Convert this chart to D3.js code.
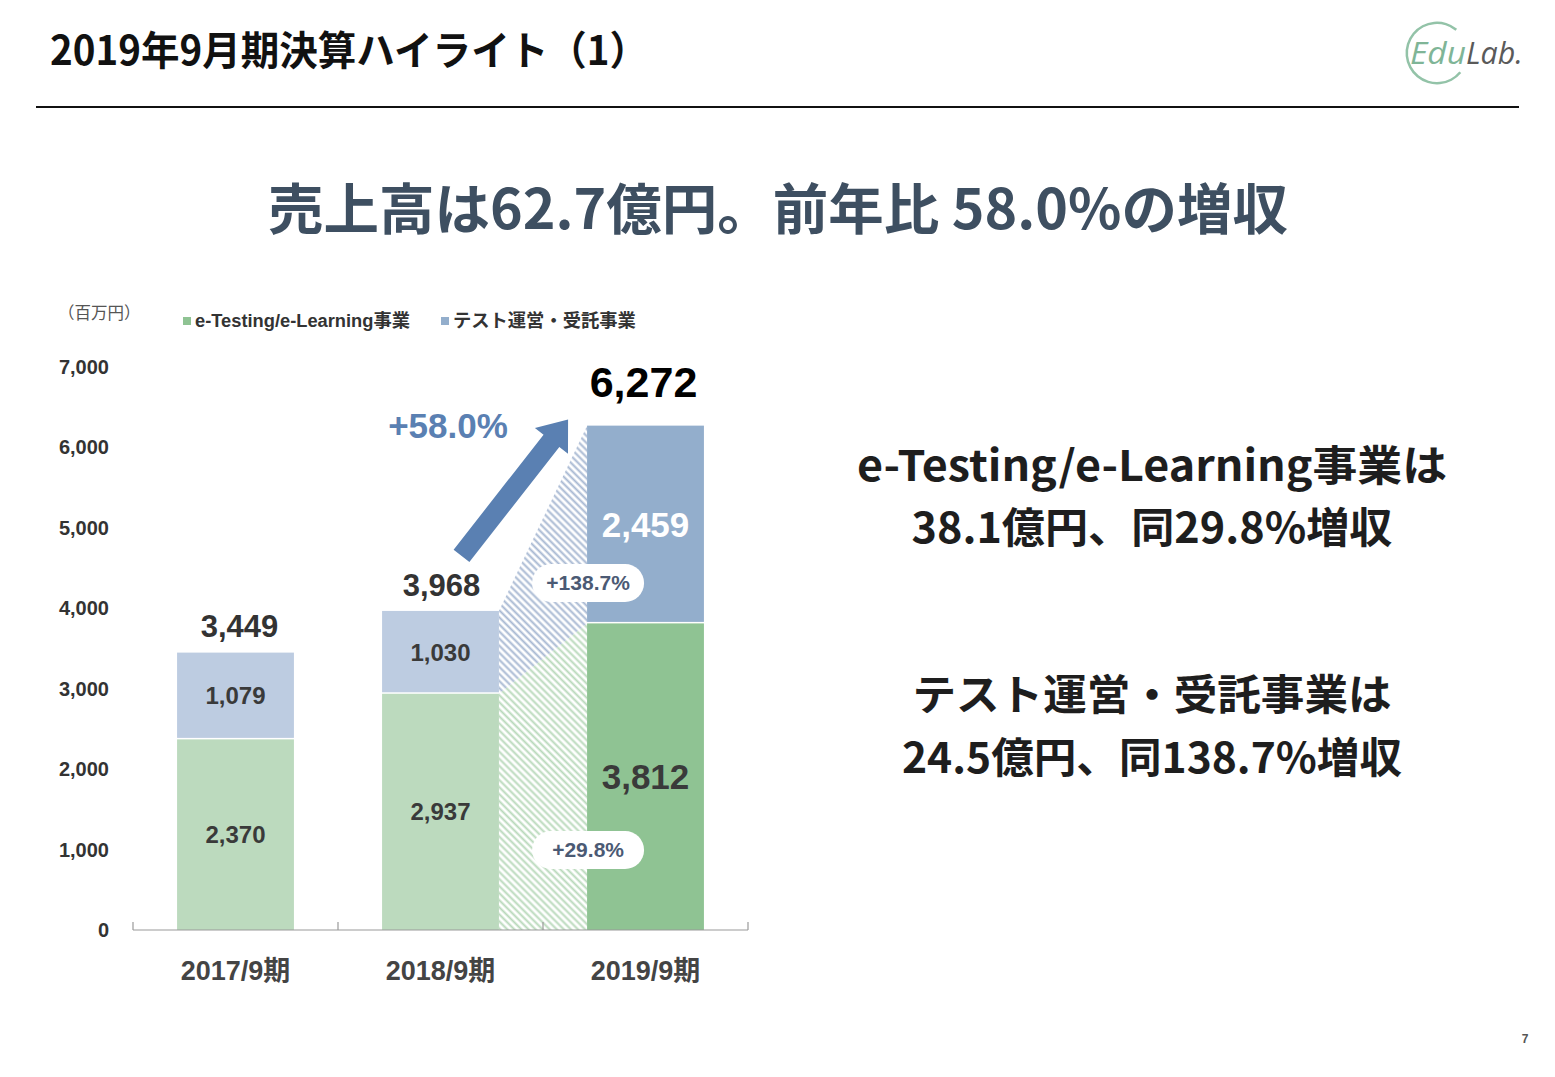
<!DOCTYPE html>
<html lang="ja">
<head>
<meta charset="UTF-8">
<title>2019年9月期決算ハイライト（1）</title>
<script src="https://cdn.jsdelivr.net/npm/d3@7"></script>
<style>
  html, body { margin: 0; padding: 0; background: #fff; }
</style>
</head>
<body>
<script>
    // データ（単位：百万円）
    const categories = ["2017/9期", "2018/9期", "2019/9期"]
    const eTesting   = [2370, 2937, 3812]   // e-Testing/e-Learning事業
    const testOps    = [1079, 1030, 2459]   // テスト運営・受託事業
    const totals     = [3449, 3968, 6272]   // 合計ラベル
    const yTicks     = [0, 1000, 2000, 3000, 4000, 5000, 6000, 7000]
    const seriesNames = ["e-Testing/e-Learning事業", "テスト運営・受託事業"]
    const totalGrowth = "+58.0%"
    const segGrowth   = ["+29.8%", "+138.7%"]   // e-Testing, テスト運営
    const sideText = [
        "e-Testing/e-Learning事業は",
        "38.1億円、同29.8%増収",
        "テスト運営・受託事業は",
        "24.5億円、同138.7%増収"
    ]

    const W = 1555, H = 1077
    const NUM = "'Liberation Sans', Arial, 'Noto Sans CJK JP', sans-serif"
    const JP  = "'Noto Sans CJK JP', 'Noto Sans CJK SC', sans-serif"

    const svg = d3.select("body").append("svg").attr("width", W).attr("height", H)

    // パターン（斜線）
    const defs = svg.append("defs")
    const hatch = (id, color) => {
        const p = defs.append("pattern").attr("id", id)
            .attr("patternUnits", "userSpaceOnUse").attr("width", 5).attr("height", 5)
            .attr("patternTransform", "rotate(-45)")
        p.append("rect").attr("width", 5).attr("height", 5).attr("fill", "#fff")
        p.append("line").attr("x1", 1.5).attr("y1", 0).attr("x2", 1.5).attr("y2", 5)
            .attr("stroke", color).attr("stroke-width", 2)
    }
    hatch("hatch-green", "#b9d9bb")
    hatch("hatch-blue", "#a7b8d2")

    // ヘッダー
    svg.append("text").attr("x", 50).attr("y", 65)
        .attr("font-family", JP).attr("font-weight", 700).attr("font-size", 40)
        .attr("fill", "#111").attr("textLength", 598).attr("lengthAdjust", "spacingAndGlyphs")
        .text("2019年9月期決算ハイライト（1）")
    svg.append("line").attr("x1", 36).attr("x2", 1519).attr("y1", 107).attr("y2", 107)
        .attr("stroke", "#111").attr("stroke-width", 2)

    // ロゴ
    const logo = svg.append("g")
    const arc = d3.arc().innerRadius(29).outerRadius(31.5)
        .startAngle(Math.PI * 0.72).endAngle(Math.PI * 2.22)
    logo.append("path").attr("transform", "translate(1437,53)").attr("d", arc()).attr("fill", "#93c3a8")
    logo.append("text").attr("x", 1410).attr("y", 64)
        .attr("font-family", "'Open Sans', Lato, sans-serif").attr("font-style", "italic")
        .attr("font-size", 31).attr("fill", "#7fb597").attr("textLength", 56)
        .attr("lengthAdjust", "spacingAndGlyphs").text("Edu")
    logo.append("text").attr("x", 1466).attr("y", 64)
        .attr("font-family", "'Open Sans', Lato, sans-serif").attr("font-style", "italic")
        .attr("font-size", 31).attr("fill", "#5a5a5a").attr("textLength", 57)
        .attr("lengthAdjust", "spacingAndGlyphs").text("Lab.")

    // 見出し
    svg.append("text").attr("x", 268).attr("y", 229)
        .attr("font-family", JP).attr("font-weight", 700).attr("font-size", 55)
        .attr("fill", "#3e4f61").attr("textLength", 1020).attr("lengthAdjust", "spacingAndGlyphs")
        .text("売上高は62.7億円。前年比 58.0%の増収")

    // 右側テキスト
    const sideY = [466, 528, 695, 758]
    const sideL = [590, 481, 479, 500]
    svg.selectAll(".side").data(sideText).join("text").attr("class", "side")
        .attr("x", 1152).attr("y", (d, i) => sideY[i]).attr("dy", "0.35em")
        .attr("text-anchor", "middle")
        .attr("font-family", JP).attr("font-weight", 700).attr("font-size", 42)
        .attr("fill", "#1e1e1e")
        .attr("textLength", (d, i) => sideL[i]).attr("lengthAdjust", "spacingAndGlyphs")
        .text(d => d)

    // スケール
    const x = d3.scaleBand().domain(categories).range([133, 748])
        .paddingInner(0.43).paddingOuter(0.215)
    const y = d3.scaleLinear().domain([0, 7000]).range([930, 367])
    const bw = x.bandwidth()

    const lightCols = ["#bcdabe", "#bdcce1"]
    const darkCols  = ["#8fc393", "#93aecc"]

    // 斜線エリア（2018→2019）
    const xa = x(categories[1]) + bw, xb = x(categories[2])
    svg.append("path").attr("fill", "url(#hatch-green)")
        .attr("d", d3.line()([[xa, y(0)], [xa, y(eTesting[1])], [xb, y(eTesting[2])], [xb, y(0)]]) + "Z")
    svg.append("path").attr("fill", "url(#hatch-blue)")
        .attr("d", d3.line()([[xa, y(eTesting[1])], [xa, y(eTesting[1] + testOps[1])],
            [xb, y(eTesting[2] + testOps[2])], [xb, y(eTesting[2])]]) + "Z")

    // 積み上げ棒
    const stack = categories.map((c, i) => ({ c, i, a: eTesting[i], b: testOps[i] }))
    const bars = svg.append("g")
    bars.selectAll(".g").data(stack).join("rect")
        .attr("x", d => x(d.c)).attr("width", bw)
        .attr("y", d => y(d.a)).attr("height", d => y(0) - y(d.a))
        .attr("fill", d => d.i === 2 ? darkCols[0] : lightCols[0])
    bars.selectAll(".b").data(stack).join("rect")
        .attr("x", d => x(d.c)).attr("width", bw)
        .attr("y", d => y(d.a + d.b)).attr("height", d => y(d.a) - y(d.a + d.b) - 1.5)
        .attr("fill", d => d.i === 2 ? darkCols[1] : lightCols[1])

    // X軸
    const axis = svg.append("g")
    axis.append("line").attr("x1", 133).attr("x2", 748).attr("y1", y(0)).attr("y2", y(0))
        .attr("stroke", "#9a9a9a").attr("stroke-width", 1.2)
    const bounds = [133].concat(categories.map(c => x(c) + x.step() - x.step() * x.paddingInner() / 2))
    axis.selectAll(".tk").data(bounds).join("line")
        .attr("x1", d => d).attr("x2", d => d).attr("y1", y(0)).attr("y2", y(0) - 8)
        .attr("stroke", "#9a9a9a").attr("stroke-width", 1.2)
    axis.selectAll(".xl").data(categories).join("text")
        .attr("x", d => x(d) + bw / 2).attr("y", 971).attr("dy", "0.35em")
        .attr("text-anchor", "middle").attr("font-family", NUM).attr("font-weight", 700)
        .attr("font-size", 27).attr("fill", "#444").text(d => d)

    // Y軸ラベル
    svg.selectAll(".yl").data(yTicks).join("text")
        .attr("x", 109).attr("y", d => y(d)).attr("dy", "0.35em").attr("text-anchor", "end")
        .attr("font-family", NUM).attr("font-weight", 700).attr("font-size", 20)
        .attr("fill", "#333").text(d3.format(","))
    svg.append("text").attr("x", 58).attr("y", 313).attr("dy", "0.35em")
        .attr("font-family", JP).attr("font-size", 16.5).attr("fill", "#555").text("（百万円）")

    // 凡例
    const legX = [183, 441]
    const leg = svg.selectAll(".leg").data(seriesNames).join("g")
        .attr("transform", (d, i) => `translate(${legX[i]},321)`)
    leg.append("rect").attr("x", 0).attr("y", -4).attr("width", 8).attr("height", 8)
        .attr("fill", (d, i) => darkCols[i])
    leg.append("text").attr("x", 12).attr("dy", "0.35em")
        .attr("font-family", NUM).attr("font-weight", 700).attr("font-size", 18.3)
        .attr("fill", "#333").text(d => d)

    // 値ラベル
    const fmt = d3.format(",")
    svg.selectAll(".va").data(stack).join("text")
        .attr("x", d => x(d.c) + bw / 2)
        .attr("y", d => d.i === 2 ? y(0) - (y(0) - y(d.a)) * 0.5 : y(d.a / 2))
        .attr("dy", "0.35em").attr("text-anchor", "middle").attr("font-family", NUM)
        .attr("font-weight", 700).attr("font-size", d => d.i === 2 ? 35 : 24)
        .attr("fill", "#3a3a3a").text(d => fmt(d.a))
    svg.selectAll(".vb").data(stack).join("text")
        .attr("x", d => x(d.c) + bw / 2)
        .attr("y", d => y(d.a + d.b / 2))
        .attr("dy", "0.35em").attr("text-anchor", "middle").attr("font-family", NUM)
        .attr("font-weight", 700).attr("font-size", d => d.i === 2 ? 35 : 24)
        .attr("fill", d => d.i === 2 ? "#fff" : "#3a3a3a").text(d => fmt(d.b))

    // 合計ラベル
    const totDx = [4, 1, -2]
    svg.selectAll(".tot").data(stack).join("text")
        .attr("x", d => x(d.c) + bw / 2 + totDx[d.i])
        .attr("y", d => y(totals[d.i]) - (d.i === 2 ? 44 : 26))
        .attr("dy", "0.35em").attr("text-anchor", "middle").attr("font-family", NUM)
        .attr("font-weight", 700).attr("font-size", d => d.i === 2 ? 43 : 31)
        .attr("fill", d => d.i === 2 ? "#000" : "#333").text(d => fmt(totals[d.i]))

    // 矢印
    const sx = x(categories[1]) + bw / 2 + 21, sy = y(totals[1]) - 55
    const ex = x(categories[2]) - 19, ey = y(totals[2]) - 6
    const L = Math.hypot(ex - sx, ey - sy), ux = (ex - sx) / L, uy = (ey - sy) / L
    const nx = -uy, ny = ux, hw = 10, hh = 21, hl = 27
    const bx = ex - ux * hl, by = ey - uy * hl
    svg.append("path").attr("fill", "#5a80b2").attr("d", d3.line()([
        [sx + nx * hw, sy + ny * hw], [bx + nx * hw, by + ny * hw], [bx + nx * hh, by + ny * hh],
        [ex, ey], [bx - nx * hh, by - ny * hh], [bx - nx * hw, by - ny * hw], [sx - nx * hw, sy - ny * hw]
    ]) + "Z")
    svg.append("text").attr("x", 448).attr("y", y(6266)).attr("dy", "0.35em")
        .attr("text-anchor", "middle").attr("font-family", NUM).attr("font-weight", 700)
        .attr("font-size", 35).attr("fill", "#5a80b2").text(totalGrowth)

    // 伸び率バブル
    const bubVal = [995, 4315]
    const bub = svg.selectAll(".bub").data(segGrowth).join("g")
        .attr("transform", (d, i) => `translate(${x(categories[2]) + 1},${y(bubVal[i])})`)
    bub.append("rect").attr("x", -56).attr("y", -19).attr("width", 112).attr("height", 38)
        .attr("rx", 19).attr("fill", "#fff")
    bub.append("text").attr("dy", "0.35em").attr("text-anchor", "middle")
        .attr("font-family", NUM).attr("font-weight", 700).attr("font-size", 21)
        .attr("fill", "#4b5a74").text(d => d)

    // ページ番号
    svg.append("text").attr("x", 1525).attr("y", 1039).attr("dy", "0.35em")
        .attr("text-anchor", "middle").attr("font-family", NUM).attr("font-weight", 700)
        .attr("font-size", 12).attr("fill", "#555").text("7")
</script>
</body>
</html>
